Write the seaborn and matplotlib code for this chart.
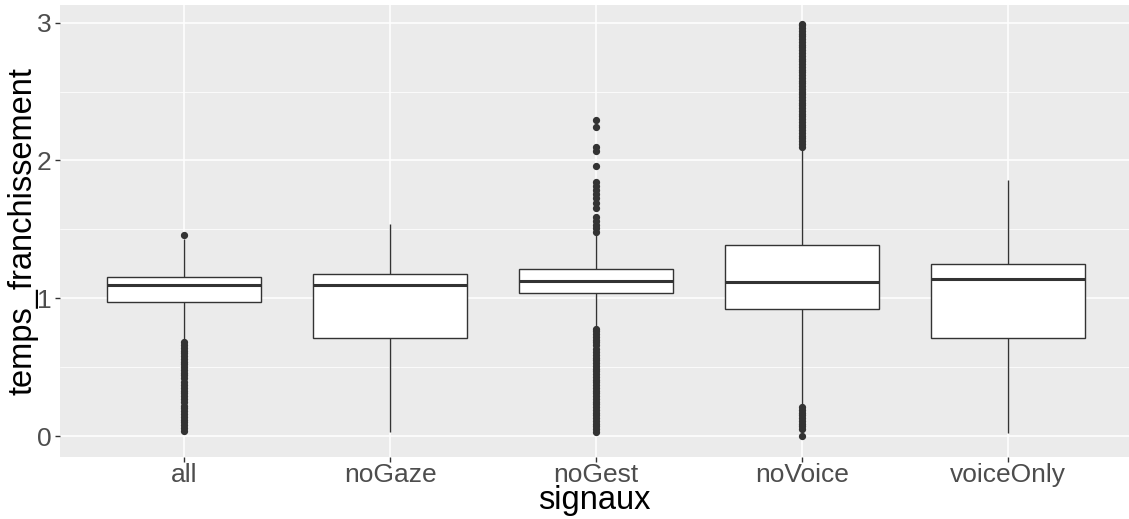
import pandas as pd
import matplotlib
matplotlib.use('Agg')
import matplotlib.pyplot as plt
import seaborn as sns

# values
categories = ['all', 'noGaze', 'noGest', 'noVoice', 'voiceOnly']
q1 = [0.971, 0.710, 1.041, 0.920, 0.710]
median = [1.099, 1.097, 1.126, 1.118, 1.140]
q3 = [1.157, 1.177, 1.210, 1.387, 1.247]
whisker_low = [0.695, 0.030, 0.790, 0.225, 0.020]
whisker_high = [1.430, 1.537, 1.460, 2.080, 1.859]

outliers_all = [1.46,
                0.68, 0.66, 0.64, 0.62, 0.60, 0.58, 0.56, 0.54, 0.52, 0.50,
                0.48, 0.46, 0.44, 0.42, 0.39, 0.37, 0.35, 0.33, 0.31, 0.29,
                0.27, 0.25, 0.22, 0.20, 0.18, 0.16, 0.14, 0.12, 0.10, 0.08,
                0.06, 0.04]
outliers_noGaze = []
outliers_noGest = [2.295, 2.246, 2.101, 2.072, 1.961, 1.847, 1.816, 1.786,
                   1.757, 1.726, 1.690, 1.654, 1.593, 1.561, 1.532, 1.508,
                   1.484,
                   0.78, 0.76, 0.74, 0.72, 0.70, 0.68, 0.66, 0.63, 0.61, 0.59,
                   0.57, 0.55, 0.53, 0.51, 0.49, 0.47, 0.45, 0.43, 0.41, 0.39,
                   0.37, 0.35, 0.33, 0.31, 0.29, 0.27, 0.25, 0.23, 0.21, 0.19,
                   0.17, 0.15, 0.13, 0.11, 0.09, 0.07, 0.05, 0.03]
outliers_noVoice = [2.10, 2.12, 2.14, 2.16, 2.18, 2.20, 2.22, 2.24, 2.26, 2.28,
                    2.30, 2.32, 2.34, 2.36, 2.38, 2.40, 2.42, 2.44, 2.46, 2.48,
                    2.50, 2.52, 2.54, 2.56, 2.58, 2.60, 2.62, 2.64, 2.66, 2.68,
                    2.70, 2.72, 2.74, 2.76, 2.78, 2.80, 2.82, 2.84, 2.86, 2.88,
                    2.90, 2.92, 2.94, 2.96, 2.98, 2.99,
                    0.21, 0.19, 0.17, 0.15, 0.13, 0.11, 0.09, 0.07, 0.05, 0.0]
outliers_voiceOnly = []

outliers = [outliers_all, outliers_noGaze, outliers_noGest,
            outliers_noVoice, outliers_voiceOnly]

# rebuild samples whose box statistics match the read values
K = 400
rows = []
for i, cat in enumerate(categories):
    vals = (outliers[i] + [whisker_low[i]] + [q1[i]] * K + [median[i]] * K
            + [q3[i]] * K + [whisker_high[i]])
    rows += [(cat, v) for v in vals]
df = pd.DataFrame(rows, columns=['signaux', 'temps_franchissement'])

sns.set_theme(style='darkgrid', rc={'axes.facecolor': '#EBEBEB',
                                    'axes.edgecolor': '#EBEBEB',
                                    'axes.axisbelow': True})
plt.rcParams['font.family'] = ['Liberation Sans', 'DejaVu Sans']

fig = plt.figure(figsize=(11.29, 5.19), dpi=100)
ax = fig.add_axes([0.0535, 0.12, 0.9465, 0.8708])

sns.boxplot(data=df, x='signaux', y='temps_franchissement', order=categories,
            color='white', linecolor='#333333', linewidth=1.0, width=0.75,
            saturation=1, showcaps=False, fliersize=4.2,
            medianprops={'linewidth': 2.2},
            flierprops={'marker': 'o', 'markerfacecolor': '#333333',
                        'markeredgecolor': '#333333'},
            ax=ax)

ax.set_xlim(-0.6, 4.587)
ax.set_ylim(-0.15, 3.13)
ax.set_yticks([0, 1, 2, 3])
ax.set_yticklabels(['0', '1', '2', '3'])
ax.set_yticks([0.5, 1.5, 2.5], minor=True)

ax.grid(which='major', axis='both', color='white', linewidth=1.1)
ax.grid(which='minor', axis='y', color='white', linewidth=0.55)
for s in ax.spines.values():
    s.set_visible(False)

ax.tick_params(which='major', length=3.7, width=1.0, color='#333333',
               labelsize=19, labelcolor='#4D4D4D', pad=2.5)
ax.tick_params(axis='x', pad=1.0)
ax.tick_params(which='minor', length=0)
ax.tick_params(axis='y', left=True)
ax.tick_params(axis='x', bottom=True)

ax.set_xlabel('signaux', fontsize=23.5, color='black', labelpad=-1.5)
ax.set_ylabel('temps_franchissement', fontsize=23.5, color='black', labelpad=-1)

fig.savefig('out.png', dpi=100)
